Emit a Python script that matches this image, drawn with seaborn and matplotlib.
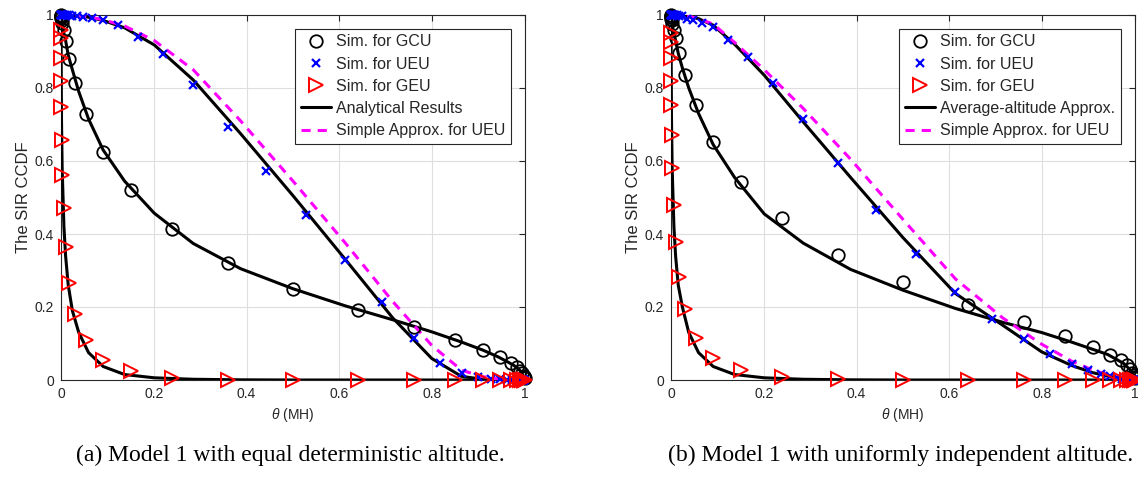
import matplotlib
matplotlib.use("Agg")
import matplotlib.pyplot as plt
import seaborn as sns

# ---------------- data ----------------
# x positions of the analytical / approximation curves (theta in MH scale)
LINE_X = [0, 0.0001, 0.001, 0.0025, 0.0063, 0.0099, 0.0156, 0.0245, 0.0383, 0.0594,
          0.0909, 0.137, 0.201, 0.285, 0.387, 0.5, 0.613, 0.715, 0.799, 0.863,
          0.909, 0.941, 0.962, 0.976, 0.984, 0.990, 0.996, 0.999]

# x positions of GCU / GEU simulation markers
SIM_X = [0.0001, 0.00018, 0.00032, 0.00056, 0.001, 0.0018, 0.0032, 0.0056, 0.0099, 0.0175,
         0.0307, 0.0532, 0.0909, 0.151, 0.240, 0.360, 0.500, 0.640, 0.760, 0.849,
         0.909, 0.947, 0.969, 0.982, 0.990, 0.9944, 0.9968, 0.9982, 0.9990]

# x positions of UEU simulation markers
UEU_X = [0.0001, 0.0002, 0.0004, 0.0008, 0.0016, 0.0032, 0.0044, 0.0063, 0.0088, 0.0124,
         0.0175, 0.0245, 0.0343, 0.0477, 0.0661, 0.0909, 0.1237, 0.1663, 0.2199, 0.2847,
         0.3599, 0.4427, 0.5288, 0.6131, 0.6913, 0.7597, 0.8171, 0.8632, 0.8991, 0.9264,
         0.9468, 0.9617, 0.9726, 0.9804, 0.9861, 0.9901, 0.9930, 0.9950, 0.9965, 0.9975,
         0.9982, 0.9987]

# ---- panel (a) ----
A_GCU_SIM = [0.999, 0.998, 0.997, 0.995, 0.992, 0.987, 0.977, 0.96, 0.93, 0.88,
             0.815, 0.73, 0.625, 0.52, 0.413, 0.32, 0.25, 0.192, 0.145, 0.11,
             0.082, 0.063, 0.047, 0.035, 0.025, 0.018, 0.012, 0.008, 0.005]
A_GEU_SIM = [0.96, 0.936, 0.881, 0.819, 0.749, 0.658, 0.562, 0.47, 0.365, 0.265,
             0.18, 0.11, 0.055, 0.025, 0.005, 0, 0, 0, 0, 0,
             0, 0, 0, 0, 0, 0, 0, 0, 0]
A_UEU_SIM = [1, 1, 1, 1, 1, 1, 1, 1, 1, 0.999,
             0.999, 0.998, 0.997, 0.995, 0.992, 0.986, 0.973, 0.941, 0.892, 0.808,
             0.694, 0.573, 0.452, 0.329, 0.213, 0.116, 0.047, 0.018, 0.008, 0.004,
             0.002, 0.001, 0, 0, 0, 0, 0, 0, 0, 0,
             0, 0]
A_GCU_LINE = [1, 1.0, 0.99, 0.975, 0.95, 0.93, 0.89, 0.85, 0.79, 0.715,
              0.63, 0.545, 0.457, 0.374, 0.305, 0.25, 0.203, 0.165, 0.132, 0.104,
              0.082, 0.064, 0.05, 0.04, 0.032, 0.025, 0.012, 0.005]
A_UEU_LINE = [1, 1, 1, 1, 1, 1, 0.999, 0.999, 0.998, 0.994,
              0.985, 0.965, 0.918, 0.822, 0.675, 0.505, 0.33, 0.17, 0.059, 0.01,
              0.002, 0, 0, 0, 0, 0, 0, 0]
A_GEU_LINE = [1, 0.95, 0.72, 0.58, 0.42, 0.34, 0.26, 0.19, 0.13, 0.075,
              0.037, 0.015, 0.006, 0.002, 0.0005, 0, 0, 0, 0, 0,
              0, 0, 0, 0, 0, 0, 0, 0]
A_APPROX = [1, 1, 1, 1, 1, 1, 0.999, 0.999, 0.998, 0.995,
            0.987, 0.97, 0.93, 0.85, 0.71, 0.545, 0.375, 0.215, 0.095, 0.027,
            0.009, 0.003, 0.001, 0, 0, 0, 0, 0]

# ---- panel (b) ----
B_GCU_SIM = [0.999, 0.998, 0.997, 0.995, 0.99, 0.985, 0.975, 0.959, 0.936, 0.895,
             0.836, 0.753, 0.653, 0.543, 0.443, 0.342, 0.268, 0.205, 0.158, 0.121,
             0.091, 0.068, 0.055, 0.042, 0.03, 0.02, 0.013, 0.008, 0.005]
B_GEU_SIM = [0.95, 0.927, 0.881, 0.819, 0.753, 0.671, 0.58, 0.479, 0.379, 0.283,
             0.194, 0.116, 0.059, 0.027, 0.009, 0.002, 0, 0, 0, 0,
             0, 0, 0, 0, 0, 0, 0, 0, 0]
B_UEU_SIM = [1, 1, 1, 1, 1, 1, 1, 1, 1, 0.999,
             0.998, 0.996, 0.99, 0.986, 0.977, 0.968, 0.932, 0.886, 0.813, 0.714,
             0.594, 0.466, 0.344, 0.240, 0.167, 0.112, 0.070, 0.043, 0.027, 0.017,
             0.010, 0.006, 0.003, 0.002, 0.001, 0.001, 0, 0, 0, 0,
             0, 0]
B_GCU_LINE = [1, 1.0, 0.99, 0.975, 0.95, 0.93, 0.895, 0.855, 0.8, 0.73,
              0.645, 0.555, 0.455, 0.375, 0.303, 0.246, 0.196, 0.158, 0.13, 0.104,
              0.084, 0.07, 0.055, 0.045, 0.035, 0.027, 0.013, 0.005]
B_UEU_LINE = [1, 1, 1, 1, 1, 1, 0.999, 0.998, 0.995, 0.99,
              0.972, 0.92, 0.835, 0.707, 0.555, 0.39, 0.237, 0.15, 0.077, 0.04,
              0.02, 0.011, 0.006, 0.003, 0.002, 0.001, 0, 0]
B_GEU_LINE = [1, 0.95, 0.72, 0.58, 0.42, 0.34, 0.26, 0.2, 0.13, 0.075,
              0.037, 0.015, 0.006, 0.002, 0.0005, 0, 0, 0, 0, 0,
              0, 0, 0, 0, 0, 0, 0, 0]
B_APPROX = [1, 1, 1, 1, 1, 1, 0.999, 0.998, 0.996, 0.99,
            0.975, 0.925, 0.85, 0.744, 0.605, 0.44, 0.277, 0.17, 0.098, 0.052,
            0.027, 0.015, 0.008, 0.005, 0.003, 0.002, 0.001, 0]

TICKS = [0, 0.2, 0.4, 0.6, 0.8, 1]
TICK_LABELS = ["0", "0.2", "0.4", "0.6", "0.8", "1"]

LEGEND_A = ["Sim. for GCU", "Sim. for UEU", "Sim. for GEU",
            "Analytical Results", "Simple Approx. for UEU"]
LEGEND_B = ["Sim. for GCU", "Sim. for UEU", "Sim. for GEU",
            "Average-altitude Approx.", "Simple Approx. for UEU"]
CAPTION_A = "(a) Model 1 with equal deterministic altitude."
CAPTION_B = "(b) Model 1 with uniformly independent altitude."
XLABEL = r"$\theta$ (MH)"
YLABEL = "The SIR CCDF"

# ---------------- styling ----------------
sns.set_theme(style="white")
plt.rcParams["font.family"] = ["Liberation Sans", "DejaVu Sans"]
plt.rcParams["mathtext.fontset"] = "custom"
plt.rcParams["mathtext.it"] = "Liberation Sans:italic"
plt.rcParams["mathtext.rm"] = "Liberation Sans"

W, H = 1138, 491
fig = plt.figure(figsize=(W / 100, H / 100), dpi=100)
ax_a = fig.add_axes([61 / W, 111 / H, 464 / W, 365 / H])
ax_b = fig.add_axes([671 / W, 111 / H, 464 / W, 365 / H])

AXCOL = "#262626"


def panel(ax, gcu_sim, ueu_sim, geu_sim, gcu_line, ueu_line, geu_line, approx, labels):
    common = dict(ax=ax, estimator=None, sort=False, legend=False)
    # simulation markers (drawn unclipped, like the reference)
    sns.lineplot(x=SIM_X, y=gcu_sim, color="black", marker="o", linestyle="none",
                 markersize=9, markerfacecolor="none", markeredgecolor="black",
                 markeredgewidth=1.3, zorder=4, clip_on=False, **common)
    sns.lineplot(x=UEU_X, y=ueu_sim, color="blue", marker="x", linestyle="none",
                 markersize=6, markeredgecolor="blue", markeredgewidth=1.6,
                 zorder=4, clip_on=False, **common)
    sns.lineplot(x=SIM_X, y=geu_sim, color="red", marker=">", linestyle="none",
                 markersize=9.5, markerfacecolor="none", markeredgecolor="red",
                 markeredgewidth=1.4, zorder=4, clip_on=False, **common)
    # analytical curves
    for yy in (gcu_line, ueu_line, geu_line):
        sns.lineplot(x=LINE_X, y=yy, color="black", linewidth=2.2, zorder=3, **common)
    sns.lineplot(x=LINE_X, y=approx, color="#ff00ff", linewidth=2.2, zorder=3.5,
                 **common)
    ax.lines[-1].set_dashes([3, 2.3])

    ax.set_xlim(0, 1)
    ax.set_ylim(0, 1)
    ax.set_xticks(TICKS)
    ax.set_xticklabels(TICK_LABELS)
    ax.set_yticks(TICKS)
    ax.set_yticklabels(TICK_LABELS)
    ax.grid(True, color="#dedede", linewidth=0.8)
    ax.set_axisbelow(True)
    ax.tick_params(direction="in", length=4, width=0.8, colors=AXCOL,
                   labelsize=10, top=True, right=True, pad=5)
    for sp in ax.spines.values():
        sp.set_color(AXCOL)
        sp.set_linewidth(0.8)
    ax.set_xlabel(XLABEL, fontsize=10, color=AXCOL, labelpad=4)
    ax.set_ylabel(YLABEL, fontsize=12, color=AXCOL, labelpad=3)

    handles = [ax.lines[0], ax.lines[1], ax.lines[2], ax.lines[3], ax.lines[6]]
    leg = ax.legend(handles, labels, loc="upper right",
                    bbox_to_anchor=(0.969, 0.962), fontsize=11.5, frameon=True,
                    fancybox=False, framealpha=1, edgecolor=AXCOL,
                    handlelength=1.9, handletextpad=0.3, borderpad=0.35,
                    labelspacing=0.45, borderaxespad=0)
    leg.get_frame().set_linewidth(0.8)


panel(ax_a, A_GCU_SIM, A_UEU_SIM, A_GEU_SIM, A_GCU_LINE, A_UEU_LINE, A_GEU_LINE,
      A_APPROX, LEGEND_A)
panel(ax_b, B_GCU_SIM, B_UEU_SIM, B_GEU_SIM, B_GCU_LINE, B_UEU_LINE, B_GEU_LINE,
      B_APPROX, LEGEND_B)

fig.text(290 / W, 1 - 455 / H, CAPTION_A, ha="center", va="center",
         family="Liberation Serif", fontsize=17, color="black")
fig.text(901 / W, 1 - 455 / H, CAPTION_B, ha="center", va="center",
         family="Liberation Serif", fontsize=17, color="black")

fig.savefig("out.png", dpi=100)
